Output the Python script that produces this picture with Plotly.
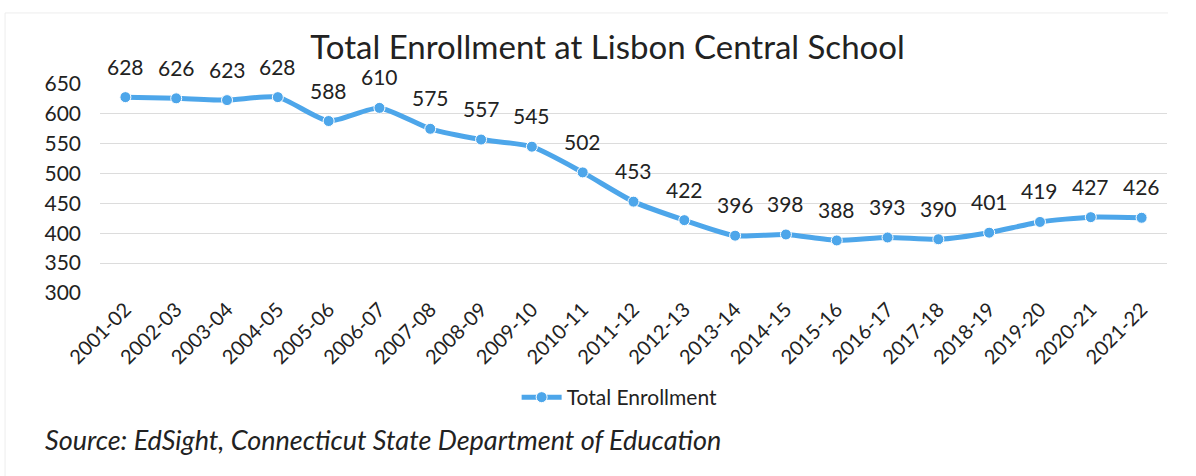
import plotly.graph_objects as go

years = ["2001-02", "2002-03", "2003-04", "2004-05", "2005-06", "2006-07", "2007-08",
         "2008-09", "2009-10", "2010-11", "2011-12", "2012-13", "2013-14", "2014-15",
         "2015-16", "2016-17", "2017-18", "2018-19", "2019-20", "2020-21", "2021-22"]
enrollment = [628, 626, 623, 628, 588, 610, 575, 557, 545, 502, 453, 422, 396, 398,
              388, 393, 390, 401, 419, 427, 426]
y_ticks = [300, 350, 400, 450, 500, 550, 600, 650]

FONT = "Lato, Open Sans, sans-serif"
BLUE = "#4da6ea"

fig = go.Figure()
fig.add_trace(go.Scatter(
    x=years, y=enrollment, mode="lines+markers", name="Total Enrollment",
    line=dict(color=BLUE, width=5, shape="spline", smoothing=0.6),
    marker=dict(size=11, color=BLUE, line=dict(color="white", width=1)),
))

for yr, v in zip(years, enrollment):
    fig.add_annotation(x=yr, y=v, text=str(v), showarrow=False, yshift=31,
                       font=dict(family=FONT, size=21, color="#222"))

fig.add_annotation(xref="paper", yref="paper", x=-0.053, y=-0.70, xanchor="left",
                   yanchor="middle", showarrow=False,
                   text="<i>Source: EdSight, Connecticut State Department of Education</i>",
                   font=dict(family=FONT, size=27, color="#222"))

# faint chart frame
fig.add_shape(type="line", xref="paper", yref="paper", x0=-0.089, x1=1.001, y0=1.34, y1=1.34,
              line=dict(color="#ededed", width=1))
fig.add_shape(type="line", xref="paper", yref="paper", x0=-0.089, x1=-0.089, y0=1.34, y1=-0.88,
              line=dict(color="#ededed", width=1))

fig.update_layout(
    width=1196, height=476,
    margin=dict(l=100, r=29, t=84, b=183, autoexpand=False),
    paper_bgcolor="white", plot_bgcolor="white",
    title=dict(text="Total Enrollment at Lisbon Central School", x=0.508, xanchor="center",
               y=0.90, yanchor="middle",
               font=dict(family=FONT, size=33, color="#222")),
    font=dict(family=FONT, color="#222"),
    showlegend=True,
    legend=dict(orientation="h", x=0.487, xanchor="center", y=-0.50, yanchor="middle",
                font=dict(family=FONT, size=21, color="#222"), itemwidth=40),
    xaxis=dict(type="category", tickangle=-45, tickfont=dict(family=FONT, size=20, color="#222"),
               showgrid=False, showline=False, ticks="", range=[-0.5, 20.5]),
    yaxis=dict(range=[300, 650], tickvals=y_ticks, showgrid=True, gridcolor="#dcdcdc",
               gridwidth=1, zeroline=False, showline=False, ticks="",
               tickfont=dict(family=FONT, size=21, color="#222"), ticklabelstandoff=18),
)

fig.write_html("out.html", config={"displayModeBar": False},
               post_script="document.body.style.margin='0';")
